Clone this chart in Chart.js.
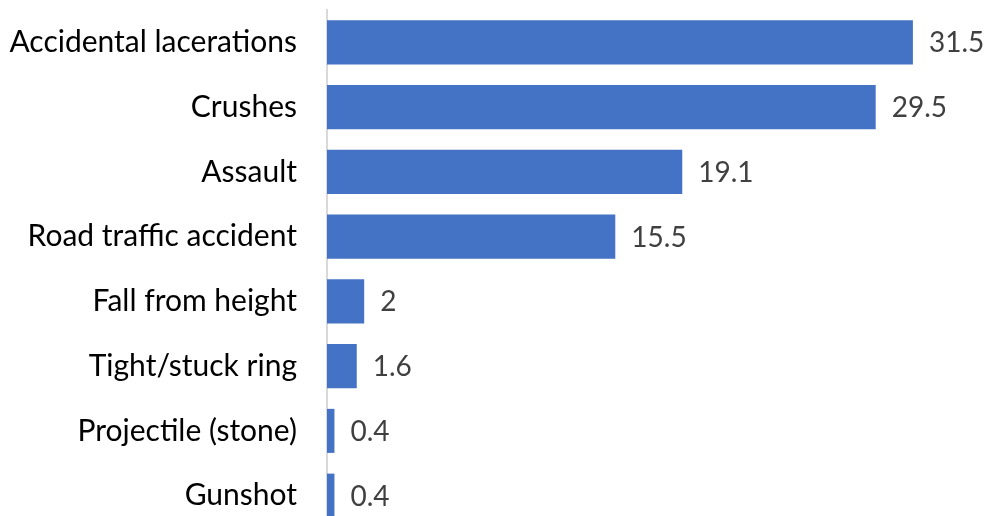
<!DOCTYPE html>
<html lang="en">
<head>
  <meta charset="UTF-8" />
  <title>Injury mechanisms</title>
  <script src="https://cdn.jsdelivr.net/npm/chart.js@4"></script>
  <style>
    html, body { margin: 0; padding: 0; background: #fff; overflow: hidden; }
    canvas { display: block; }
  </style>
</head>
<body>
  <canvas id="grafico" width="988" height="528"></canvas>

  <script>
    const categorias = [
      "Accidental lacerations",
      "Crushes",
      "Assault",
      "Road traffic accident",
      "Fall from height",
      "Tight/stuck ring",
      "Projectile (stone)",
      "Gunshot"
    ];
    const valores = [31.5, 29.5, 19.1, 15.5, 2, 1.6, 0.4, 0.4];
    const rotulos = ["31.5", "29.5", "19.1", "15.5", "2", "1.6", "0.4", "0.4"];

    const FONTE = "Lato, 'Open Sans', sans-serif";

    // desenha o valor ao lado de cada barra
    const valorPlugin = {
      id: "valorPlugin",
      afterDatasetsDraw(chart) {
        const ctx = chart.ctx;
        const meta = chart.getDatasetMeta(0);
        ctx.save();
        ctx.font = "28px " + FONTE;
        ctx.fillStyle = "#404040";
        ctx.textAlign = "left";
        ctx.textBaseline = "middle";
        meta.data.forEach((bar, i) => {
          ctx.fillText(rotulos[i], bar.x + 16, bar.y + 1);
        });
        ctx.restore();
      }
    };

    new Chart(document.getElementById("grafico"), {
      type: "bar",
      data: {
        labels: categorias,
        datasets: [{
          data: valores,
          backgroundColor: "#4472c4",
          barPercentage: 0.68,
          categoryPercentage: 1
        }]
      },
      options: {
        indexAxis: "y",
        responsive: false,
        animation: false,
        devicePixelRatio: 1,
        layout: { padding: { top: 10, right: 10, bottom: 0, left: 0 } },
        plugins: {
          legend: { display: false },
          tooltip: { enabled: false }
        },
        scales: {
          x: {
            display: false,
            min: 0,
            max: 35
          },
          y: {
            afterFit(scale) {
              scale.width = 327;
              scale.paddingTop = 0;
              scale.paddingBottom = 0;
            },
            grid: { display: false, drawTicks: false },
            border: { display: true, color: "#d9d9d9", width: 2 },
            ticks: {
              padding: 30,
              color: "#000",
              font: { family: FONTE, size: 30 }
            }
          }
        }
      },
      plugins: [valorPlugin]
    });
  </script>
</body>
</html>
